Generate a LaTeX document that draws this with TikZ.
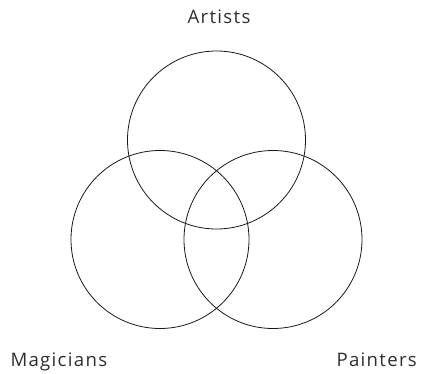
\documentclass[tikz,border=0pt]{standalone}
\usepackage{fontspec}
\setmainfont{Open Sans}[LetterSpace=7.0]
\begin{document}
\begin{tikzpicture}[x=1pt,y=-1pt,
  setcircle/.style={draw=black!90, line width=0.8pt, circle, minimum size=178pt, inner sep=0pt},
  lbl/.style={font=\fontsize{18.6}{22}\selectfont, text=black!82, inner sep=0pt}]
\useasboundingbox (0,0) rectangle (421,373);
\node[setcircle] (A) at (216.5,140) {};
\node[setcircle] (M) at (160,239.5) {};
\node[setcircle] (P) at (273,239.5) {};
\node[lbl, anchor=base] (tA) at (219,23.3) {Artists};
\node[lbl, anchor=base west] (tM) at (10.3,366.7) {Magicians};
\node[lbl, anchor=base east] (tP) at (417,366.7) {Painters};
\end{tikzpicture}
\end{document}
